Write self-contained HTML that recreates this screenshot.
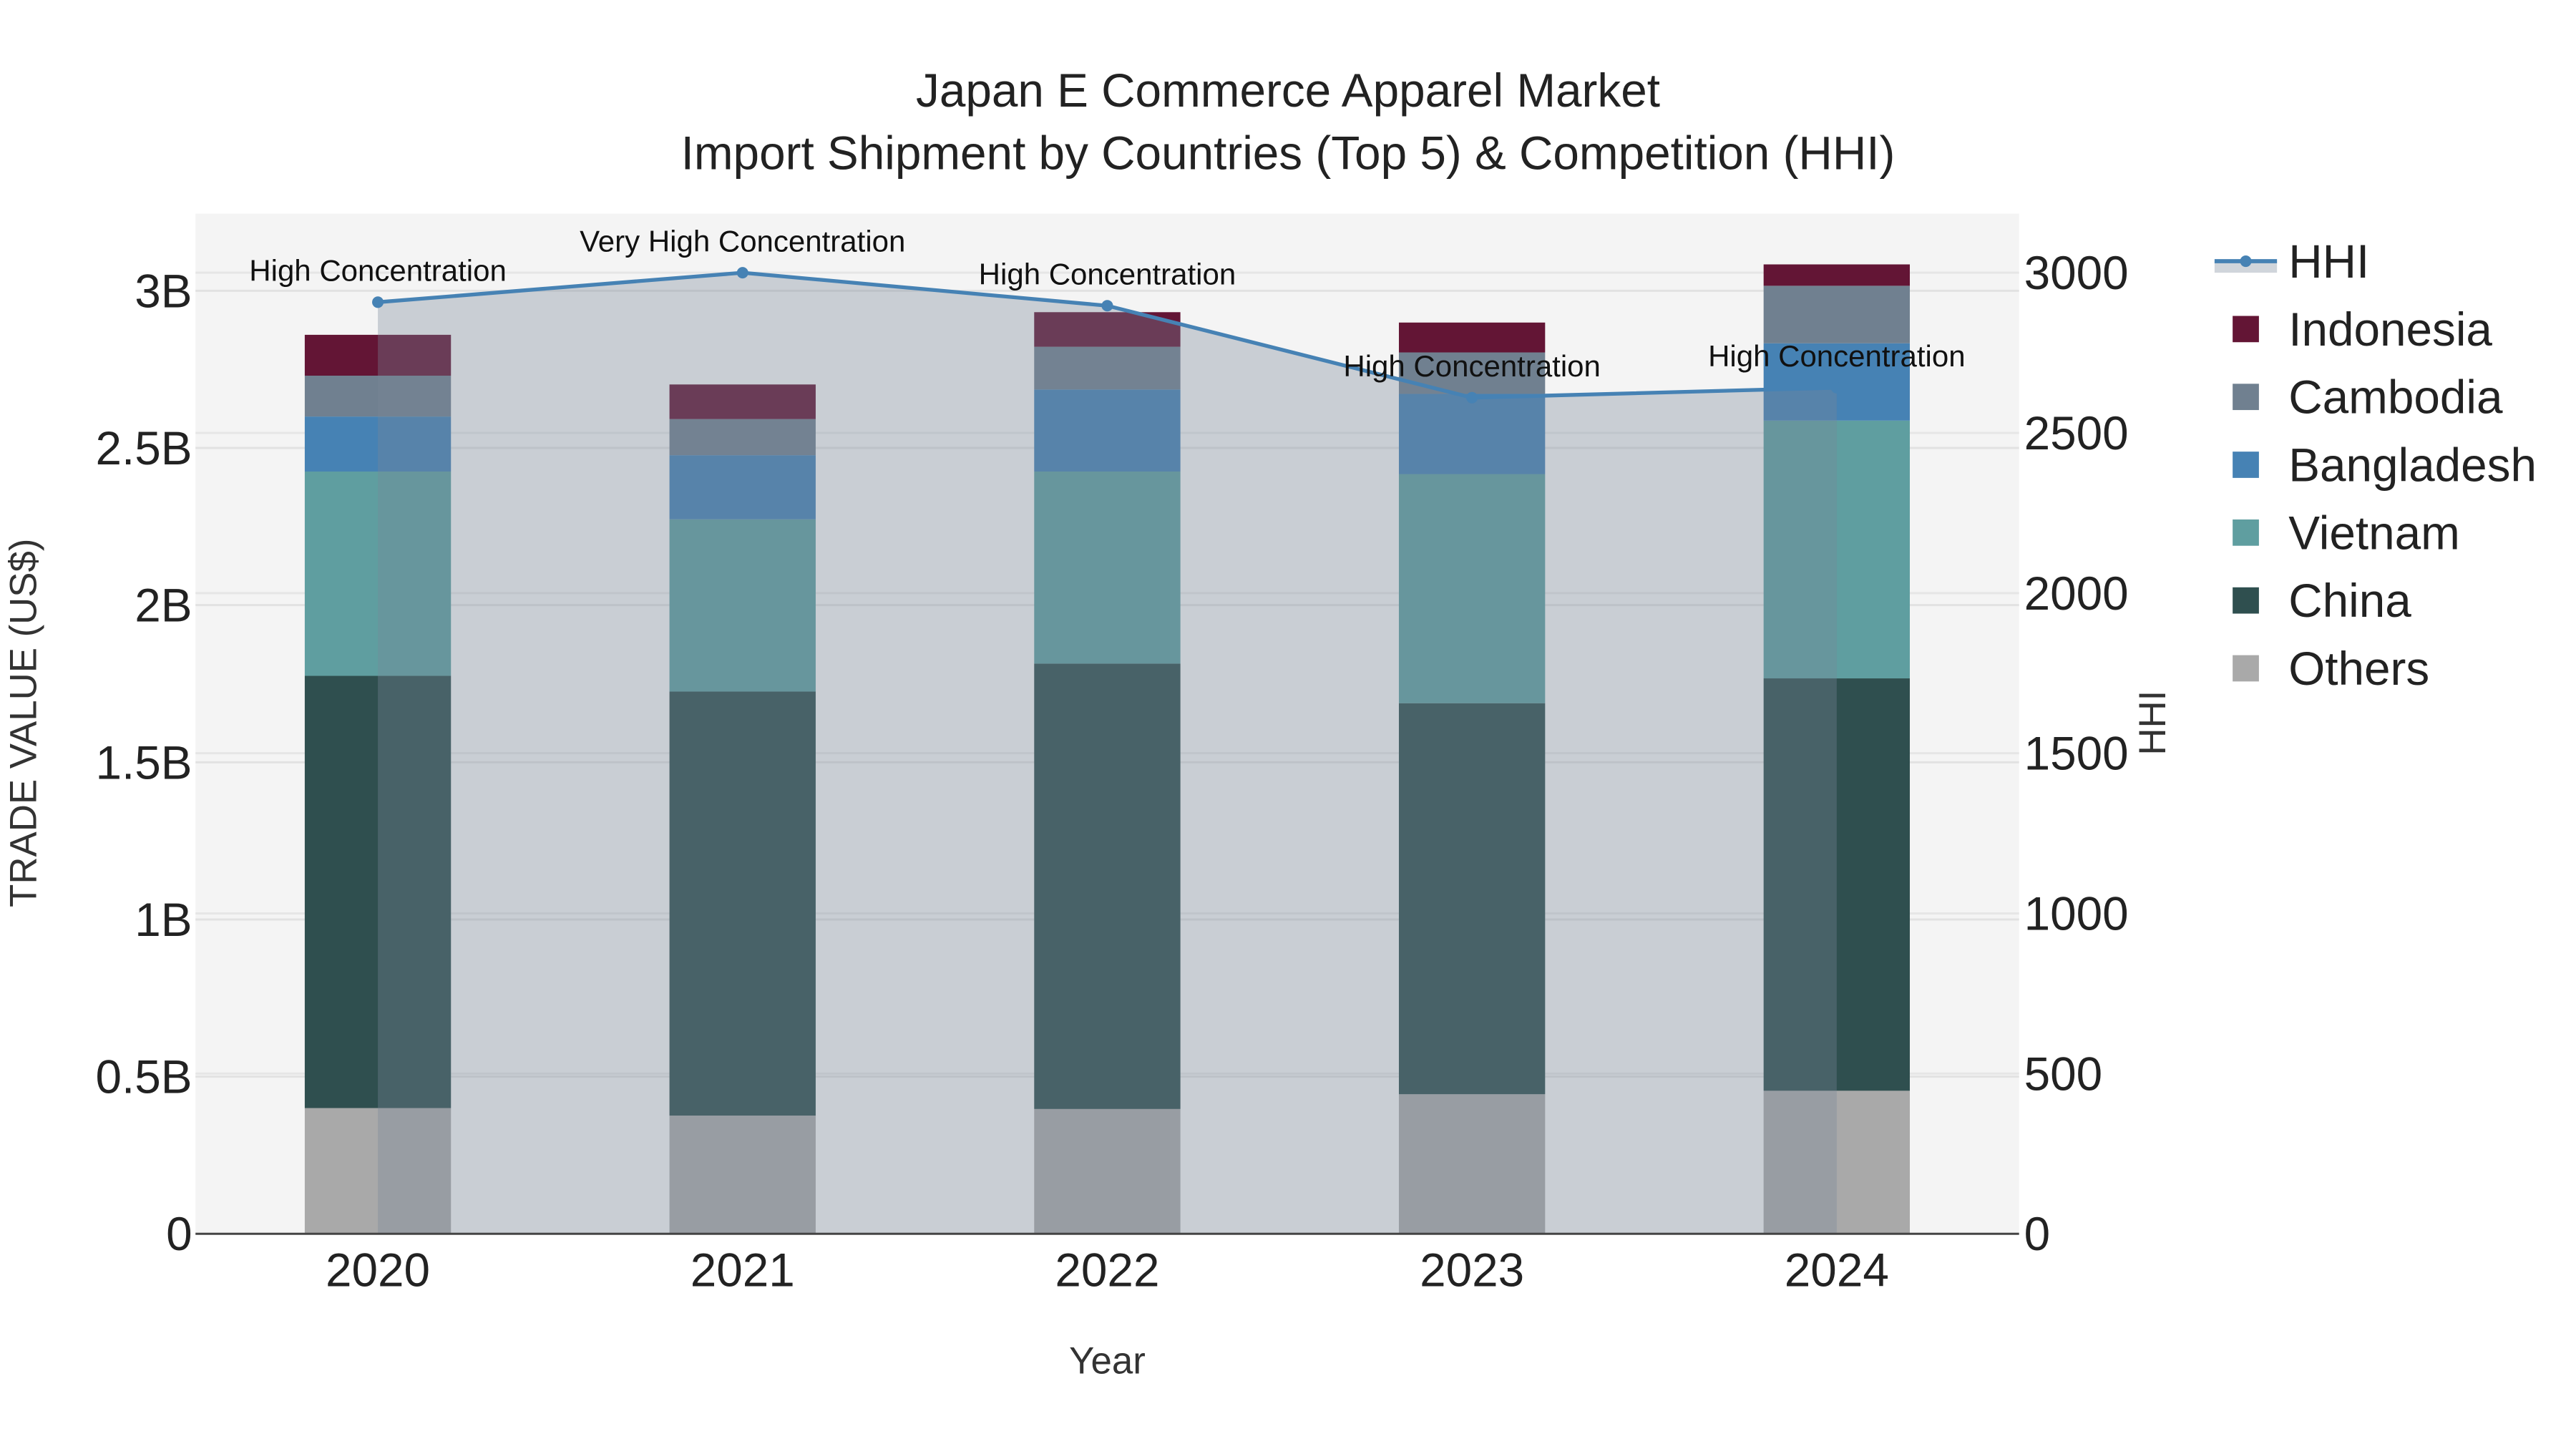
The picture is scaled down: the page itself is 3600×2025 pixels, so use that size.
<!DOCTYPE html>
<html><head><meta charset="utf-8"><style>
html,body{margin:0;padding:0;background:#fff;}
svg{display:block;font-family:"Liberation Sans",Arial,sans-serif;}
</style></head><body>
<svg id="chart" width="3600" height="2025" viewBox="0 0 1568 882" xmlns="http://www.w3.org/2000/svg">
<rect width="1568" height="882" fill="#fff"/>
<rect x="119" y="130" width="1110" height="621" fill="#f4f4f4"/>
<g id="grid"></g>
<g id="bars"></g>
<g id="hhi"></g>
<g id="axes"></g>
<text x="784" y="65" text-anchor="middle" font-size="28.6" fill="#222">Japan E Commerce Apparel Market</text>
<text x="784" y="103" text-anchor="middle" font-size="28.6" fill="#222">Import Shipment by Countries (Top 5) &amp; Competition (HHI)</text>
<text x="674" y="836" text-anchor="middle" font-size="23" fill="#333">Year</text>
<text transform="translate(22,440) rotate(-90)" text-anchor="middle" font-size="23" fill="#333">TRADE VALUE (US$)</text>
<text transform="translate(1318,440) rotate(-90)" text-anchor="middle" font-size="23" fill="#333">HHI</text>
<g id="legend"></g>
</svg>
<script>
const years = ["2020","2021","2022","2023","2024"];
const others = [0.40, 0.376, 0.397, 0.444, 0.455];
const china = [1.375, 1.349, 1.417, 1.244, 1.312];
const vietnam = [0.65, 0.548, 0.611, 0.729, 0.82];
const bangladesh = [0.175, 0.204, 0.261, 0.255, 0.246];
const cambodia = [0.13, 0.115, 0.136, 0.132, 0.183];
const indonesia = [0.13, 0.11, 0.11, 0.095, 0.068];
const hhiValues = [2908, 3000, 2897, 2610, 2641];
const hhiLabels = ["High Concentration","Very High Concentration","High Concentration","High Concentration","High Concentration"];
const leftTicks = [0, 0.5, 1, 1.5, 2, 2.5, 3];
const leftTickLabels = ["0","0.5B","1B","1.5B","2B","2.5B","3B"];
const rightTicks = [0, 500, 1000, 1500, 2000, 2500, 3000];

const NS = "http://www.w3.org/2000/svg";
const X0 = 119, X1 = 1229, Y0 = 751, YTOP = 130;
function xPos(i){ return 230 + i*222; }
function yL(v){ return Y0 - v*191.33; }
function yR(v){ return Y0 - v*0.195; }
function mk(tag, attrs, parent){ const e=document.createElementNS(NS,tag); for(const k in attrs) e.setAttribute(k,attrs[k]); parent.appendChild(e); return e; }

const grid=document.getElementById('grid');
leftTicks.forEach(t=>{ if(t===0) return;
  const l=mk('line',{x1:X0,x2:X1,y1:yL(t),y2:yL(t),stroke:'#e2e2e2','stroke-width':1.3},grid);
  
  
});
rightTicks.forEach(t=>{ if(t===0) return;
  const l=mk('line',{x1:X0,x2:X1,y1:yR(t),y2:yR(t),stroke:'#e6e6e6','stroke-width':1.3},grid);
  
  
});

const series=[["Others",others,"#a9a9a9"],["China",china,"#2f4f4f"],["Vietnam",vietnam,"#5f9ea0"],["Bangladesh",bangladesh,"#4682b4"],["Cambodia",cambodia,"#708090"],["Indonesia",indonesia,"#631535"]];
const bars=document.getElementById('bars');
years.forEach((y,i)=>{
  let base=0;
  series.forEach(s=>{
    const v=s[1][i];
    const r=mk('rect',{x:xPos(i)-44.5,width:89,y:yL(base+v),height:yL(base)-yL(base+v),fill:s[2]},bars);
    
    
    base+=v;
  });
});

const hhi=document.getElementById('hhi');
let d='M'+xPos(0)+','+Y0;
hhiValues.forEach((v,i)=>{ d+=' L'+xPos(i)+','+yR(v); });
d+=' L'+xPos(hhiValues.length-1)+','+Y0+' Z';
const area=mk('path',{d:d,fill:'rgba(119,136,153,0.35)'},hhi);


let ld='';
hhiValues.forEach((v,i)=>{ ld+=(i?' L':'M')+xPos(i)+','+yR(v); });
const line=mk('path',{d:ld,fill:'none',stroke:'#4682b4','stroke-width':2.3},hhi);


hhiValues.forEach((v,i)=>{
  const c=mk('circle',{cx:xPos(i),cy:yR(v),r:3.5,fill:'#4682b4'},hhi);
  
  
  const t=mk('text',{x:xPos(i),y:yR(v)-13,'text-anchor':'middle','font-size':18.3,fill:'#111'},hhi);
  t.textContent=hhiLabels[i];
  
  
});

const axes=document.getElementById('axes');
const ax=mk('line',{x1:X0,x2:X1,y1:Y0,y2:Y0,stroke:'#444','stroke-width':1.3},axes);


leftTicks.forEach((t,i)=>{
  const e=mk('text',{x:117,y:yL(t)+10,'text-anchor':'end','font-size':28.6,fill:'#222'},axes);
  e.textContent=leftTickLabels[i];
  
  
});
rightTicks.forEach(t=>{
  const e=mk('text',{x:1232,y:yR(t)+10,'font-size':28.6,fill:'#222'},axes);
  e.textContent=String(t);
  
  
});
years.forEach((y,i)=>{
  const e=mk('text',{x:xPos(i),y:783,'text-anchor':'middle','font-size':28.6,fill:'#222'},axes);
  e.textContent=y;
  
  
});

const lg=document.getElementById('legend');
const items=[["HHI",null],["Indonesia","#631535"],["Cambodia","#708090"],["Bangladesh","#4682b4"],["Vietnam","#5f9ea0"],["China","#2f4f4f"],["Others","#a9a9a9"]];
items.forEach((it,k)=>{
  const cy=159+k*41.3;
  const g=mk('g',{},lg);
  
  
  if(it[1]===null){
    mk('rect',{x:1348,y:cy,width:38,height:7,fill:'rgba(119,136,153,0.35)'},g);
    mk('line',{x1:1348,x2:1386,y1:cy,y2:cy,stroke:'#4682b4','stroke-width':2.5},g);
    mk('circle',{cx:1367,cy:cy,r:3.5,fill:'#4682b4'},g);
  } else {
    mk('rect',{x:1359,y:cy-8,width:16,height:16,fill:it[1]},g);
  }
  const t=mk('text',{x:1393,y:cy+10,'font-size':28.6,fill:'#222'},g);
  t.textContent=it[0];
});
</script>
</body></html>
